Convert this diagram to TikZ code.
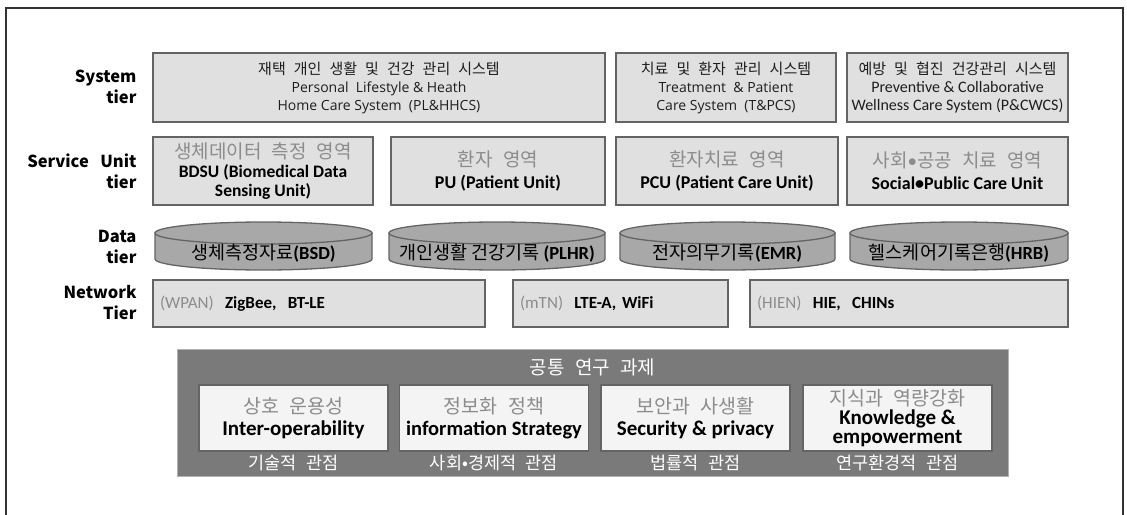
\documentclass[tikz,border=0pt]{standalone}
\usepackage{fontspec}
\setmainfont{Noto Sans CJK KR}
\newfontfamily\calib{Carlito}
\newfontfamily\segoe{Open Sans}
\newfontfamily\krwide{Noto Sans CJK KR}[WordSpace=2.4]
\usetikzlibrary{positioning}

\definecolor{boxfill}{RGB}{224,224,224}
\definecolor{boxedge}{RGB}{100,100,100}
\definecolor{dbfill}{RGB}{168,168,168}
\definecolor{softtext}{RGB}{140,140,140}
\definecolor{panelgray}{RGB}{122,122,122}
\definecolor{lightfill}{RGB}{244,244,244}
\definecolor{framegray}{RGB}{50,50,50}
\definecolor{systext}{RGB}{30,30,30}

\newcommand\softkr[1]{{\krwide\color{softtext}#1}}
\newcommand\engb[1]{{\calib\bfseries #1}}

\begin{document}
\begin{tikzpicture}[x=1pt,y=-1pt,
    tierbox/.style={draw=boxedge, fill=boxfill, line width=1.8pt, inner sep=2pt, align=center},
    systext/.style={text=systext, font=\segoe\fontsize{14}{18}\selectfont},
    taskbox/.style={draw=boxedge, fill=lightfill, line width=1.8pt, inner sep=2pt, align=center,
      minimum width=189pt, minimum height=66pt},
    tierlabel/.style={anchor=east, align=right, font=\bfseries\fontsize{16.5}{21}\selectfont},
    netbox/.style={tierbox, align=left, inner xsep=7pt, minimum height=47pt,
      font=\calib\fontsize{17}{19}\selectfont},
    dbase/.style={draw=boxedge, fill=dbfill, line width=1.3pt},
    viewlabel/.style={text=white, font=\krwide\fontsize{17.5}{19}\selectfont}]
  \useasboundingbox (0,0) rectangle (1127,514);

  % frame
  \draw[framegray, line width=1.5pt] (6,520) -- (6,8) -- (1123,8) -- (1123,520);

  % tier labels
  \node[tierlabel] (systier) at (140,87) {System\\tier};
  \node[tierlabel] (unittier) at (140,171) {Service\hspace{0.7em}Unit\\tier};
  \node[tierlabel] (datatier) at (140,247) {Data\\tier};
  \node[tierlabel] (nettier) at (140,303) {Network\\Tier};

  % system tier
  \node[tierbox, systext, minimum width=452pt, minimum height=69pt]
    (plhhcs) at (379,87.5) {{\krwide\fontsize{15}{18}\selectfont 재택 개인 생활 및 건강 관리 시스템}\\Personal~ Lifestyle \& Heath\\Home Care System~ (PL\&HHCS)};
  \node[tierbox, systext, minimum width=220pt, minimum height=69pt]
    (tpcs) at (726,87.5) {{\krwide\fontsize{15}{18}\selectfont 치료 및 환자 관리 시스템}\\Treatment~ \& Patient\\Care System~ (T\&PCS)};
  \node[tierbox, systext, minimum width=221pt, minimum height=69pt]
    (pcwcs) at (957.5,87.5) {{\krwide\fontsize{15}{18}\selectfont 예방 및 협진 건강관리 시스템}\\{\calib\fontsize{16}{18}\selectfont Preventive \& Collaborative}\\{\calib\fontsize{16}{18}\selectfont Wellness Care System (P\&CWCS)}};

  % service unit tier
  \node[tierbox, minimum width=220pt, minimum height=68pt, font=\fontsize{17.5}{19}\selectfont]
    (bdsu) at (263,171) {\softkr{\fontsize{19}{19}\selectfont 생체데이터 측정 영역}\\\engb{BDSU (Biomedical Data}\\\engb{Sensing Unit)}};
  \node[tierbox, minimum width=214pt, minimum height=68pt, font=\fontsize{18}{22}\selectfont]
    (pu) at (498,171) {\softkr{\fontsize{19}{22}\selectfont 환자 영역}\\\engb{PU (Patient Unit)}};
  \node[tierbox, minimum width=222pt, minimum height=68pt, font=\fontsize{18}{22}\selectfont]
    (pcu) at (727,171) {\softkr{\fontsize{19}{22}\selectfont 환자치료 영역}\\\engb{PCU (Patient Care Unit)}};
  \node[tierbox, minimum width=221pt, minimum height=68pt, font=\fontsize{18}{22}\selectfont]
    (spcu) at (957.5,171) {\softkr{\fontsize{19}{22}\selectfont 사회{\calib•}공공 치료 영역}\\\engb{Social•Public Care Unit}};

  % data tier
  \foreach \xa/\xb/\name/\label in {155/372/bsd/생체측정자료\engb{(BSD)},
      389/605/plhr/개인생활 건강기록 \engb{(PLHR)},
      620/835/emr/전자의무기록\engb{(EMR)},
      850/1068/hrb/헬스케어기록은행\engb{(HRB)}}{
    \pgfmathsetmacro\xm{(\xa+\xb)/2}
    \pgfmathsetmacro\rx{(\xb-\xa)/2}
    \path[dbase] (\xa,233) -- (\xa,259) arc[start angle=180, end angle=360, x radius=\rx pt, y radius=11pt]
      -- (\xb,233) -- cycle;
    \path[dbase] (\xm,233) ellipse[x radius=\rx pt, y radius=11pt];
    \node[font=\fontsize{18.5}{20}\selectfont] (\name) at (\xm,253) {\label};
  }

  % network tier
  \node[netbox, text width=318pt] (wpan) at (319,303.5) {\softkr{\calib(WPAN)}~~\textbf{ZigBee,~~BT-LE}};
  \node[netbox, text width=201pt] (mtn) at (620.5,303.5) {\softkr{\calib(mTN)}~~\textbf{LTE-A,~WiFi}};
  \node[netbox, text width=304pt] (hien) at (909,303.5) {\softkr{\calib(HIEN)}~~\textbf{HIE,~~CHINs}};

  % common research tasks
  \node[fill=panelgray, draw=gray!60, minimum width=831pt, minimum height=127pt] (tasks) at (592.5,412.5) {};
  \node[text=white, font=\krwide\fontsize{19}{22}\selectfont] (taskstitle) at (592.5,367) {공통 연구 과제};
  \node[taskbox, font=\fontsize{19.5}{22}\selectfont] (interop) at (293.5,418)
    {\softkr{상호 운용성}\\\engb{\fontsize{21}{22}\selectfont Inter-operability}};
  \node[taskbox, font=\fontsize{19.5}{22}\selectfont] (infostrat) at (494,418)
    {\softkr{정보화 정책}\\\engb{\fontsize{20.5}{22}\selectfont information Strategy}};
  \node[taskbox, font=\fontsize{19.5}{22}\selectfont] (secpriv) at (695.5,418)
    {\softkr{보안과 사생활}\\\engb{\fontsize{21}{22}\selectfont Security \& privacy}};
  \node[taskbox, font=\fontsize{19.5}{19}\selectfont] (knowemp) at (897.5,418)
    {\softkr{지식과 역량강화}\\\engb{\fontsize{21}{19}\selectfont Knowledge \&}\\\engb{\fontsize{21}{19}\selectfont empowerment}};
  \node[viewlabel] (techview) at (293.5,463) {기술적 관점};
  \node[viewlabel] (socview) at (494,463) {사회•경제적 관점};
  \node[viewlabel] (lawview) at (695.5,463) {법률적 관점};
  \node[viewlabel] (envview) at (897.5,463) {연구환경적 관점};
\end{tikzpicture}
\end{document}
